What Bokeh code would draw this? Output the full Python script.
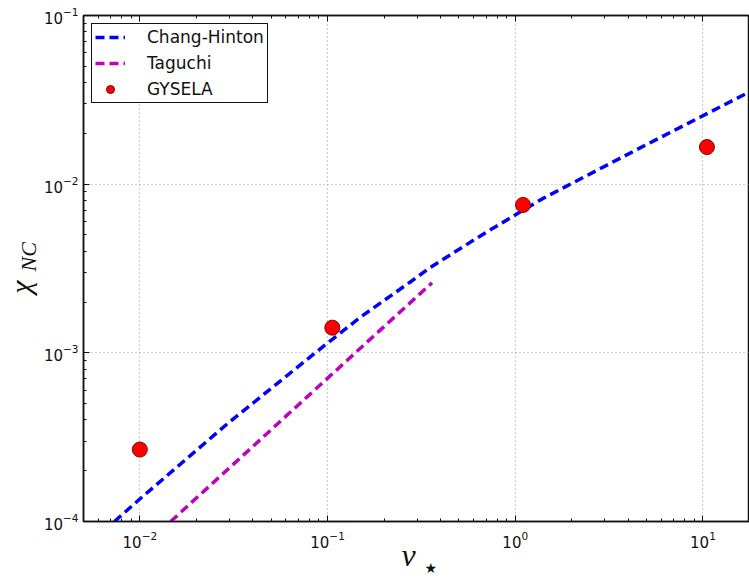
import math
from bokeh.plotting import figure
from bokeh.models import Range1d, LogAxis, LogTicker, LogTickFormatter, Title, Legend, LegendItem
from bokeh.embed import file_html
from bokeh.resources import INLINE

# Chang-Hinton curve
ch_nu = [0.00732, 0.01, 0.0292, 0.0918, 0.150, 0.276, 0.353, 0.678, 1.39, 4.62, 17.6]
ch_chi = [1.0e-4, 1.36e-4, 3.79e-4, 1.06e-3, 1.63e-3, 2.63e-3, 3.21e-3, 5.07e-3, 8.18e-3, 0.0164, 0.0351]
# Taguchi
tg_nu = [0.0146, 0.36]
tg_chi = [1.0e-4, 2.6e-3]
# GYSELA points
gy_nu = [0.01, 0.106, 1.1, 10.5]
gy_chi = [2.67e-4, 1.41e-3, 7.53e-3, 1.66e-2]

x_lim = (0.00501, 17.7)
y_lim = (1e-4, 1e-1)

p = figure(width=749, height=578, x_axis_type="log", y_axis_type="log",
           x_range=Range1d(*x_lim), y_range=Range1d(*y_lim),
           output_backend="svg", toolbar_location=None,
           min_border_left=82, min_border_right=0, min_border_top=15, min_border_bottom=57,
           background_fill_color="white", border_fill_color="white")

p.outline_line_color = "#111111"
p.outline_line_width = 1.5

for ax in (p.xaxis[0], p.yaxis[0]):
    ax.ticker = LogTicker(num_minor_ticks=10)
    ax.formatter = LogTickFormatter()
    ax.major_tick_in = 6
    ax.major_tick_out = 0
    ax.minor_tick_in = 3
    ax.minor_tick_out = 0
    ax.axis_line_color = "#111111"
    ax.axis_line_width = 1.5
    ax.major_tick_line_color = "#111111"
    ax.minor_tick_line_color = "#111111"
    ax.major_label_text_font = "DejaVu Sans"
    ax.major_label_text_font_size = "15px"
    ax.major_label_text_color = "#111111"
    ax.axis_label_text_font = "Liberation Serif"
    ax.axis_label_text_font_style = "italic"
    ax.axis_label_text_color = "#111111"

p.xaxis[0].major_label_standoff = 9
p.yaxis[0].major_label_standoff = 5

# axis titles: main symbols as axis labels, subscripts as titles
p.xaxis[0].axis_label = "ν" + "\u00a0" * 2
p.xaxis[0].axis_label_text_font_size = "32px"
p.xaxis[0].axis_label_standoff = -14
p.yaxis[0].axis_label = "χ" + "\u00a0" * 5
p.yaxis[0].axis_label_text_font_size = "30px"
p.yaxis[0].axis_label_standoff = 4

top = LogAxis(ticker=LogTicker(num_minor_ticks=10), formatter=LogTickFormatter(),
              major_tick_in=6, major_tick_out=0, minor_tick_in=3, minor_tick_out=0,
              major_label_text_font_size="6px", major_label_text_alpha=0,
              major_label_standoff=0, axis_line_color="#111111", axis_line_width=1.5,
              major_tick_line_color="#111111", minor_tick_line_color="#111111")
p.add_layout(top, "above")

p.add_layout(Title(text="★", align="left", offset=341, standoff=-32, vertical_align="top",
                   text_font="DejaVu Sans", text_font_size="14px", text_font_style="normal",
                   text_color="#111111"), "below")
p.add_layout(Title(text="NC", align="left", offset=250, standoff=-80, vertical_align="bottom",
                   text_font="Liberation Serif", text_font_size="22px", text_font_style="italic",
                   text_color="#111111"), "left")

for g in (p.xgrid[0], p.ygrid[0]):
    g.grid_line_color = "#a0a0a0"
    g.grid_line_dash = "1 3"
    g.grid_line_width = 1.2

r_ch = p.line(ch_nu, ch_chi, line_color="#0000ff", line_width=3.5, line_dash="9 5")
r_tg = p.line(tg_nu, tg_chi, line_color="#bf00bf", line_width=3.5, line_dash="9 5")
r_gy = p.scatter(gy_nu, gy_chi, size=15, fill_color="#ff0000", line_color="#8a0000", line_width=1)

legend = Legend(items=[LegendItem(label="Chang-Hinton", renderers=[r_ch]),
                       LegendItem(label="Taguchi", renderers=[r_tg]),
                       LegendItem(label="GYSELA", renderers=[r_gy])],
                location="top_left")
legend.margin = 8
legend.padding = 3
legend.spacing = 6
legend.glyph_width = 30
legend.glyph_height = 20
legend.label_height = 20
legend.label_standoff = 22
legend.label_text_font = "DejaVu Sans"
legend.label_text_font_size = "17px"
legend.label_text_color = "#111111"
legend.border_line_color = "#111111"
legend.border_line_width = 1.5
legend.border_line_alpha = 1
legend.background_fill_color = "white"
legend.background_fill_alpha = 1
p.add_layout(legend)

open("out.html", "w").write(file_html(p, INLINE))
